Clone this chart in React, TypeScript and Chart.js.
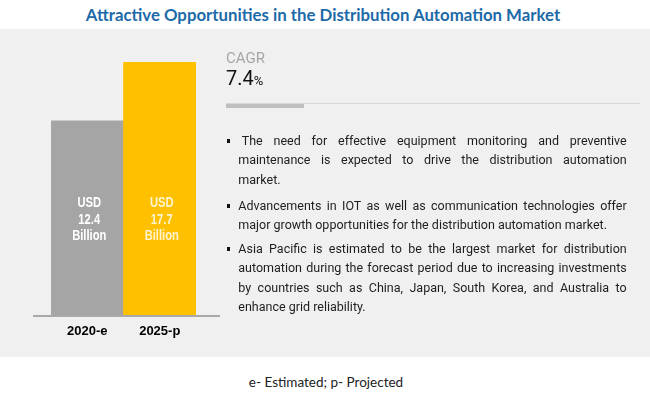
import React, { useEffect, useRef } from "react";
import { Chart, registerables } from "chart.js";

Chart.register(...registerables);

const TITLE = "Attractive Opportunities in the Distribution Automation Market";
const CATEGORIES = ["2020-e", "2025-p"];
const VALUES = [12.4, 17.7];
const BAR_COLORS = ["#a5a5a5", "#ffc000"];
const BAR_LABEL_COLORS = ["#ffffff", "#fff4d0"];
const UNIT_PREFIX = "USD";
const UNIT_SUFFIX = "Billion";
const Y_MIN = -5.3;
const Y_MAX = 18.9;
const CAGR_LABEL = "CAGR";
const CAGR_VALUE = 7.4;
const BULLETS: string[][] = [
  [
    "The need for effective equipment monitoring and preventive",
    "maintenance is expected to drive the distribution automation",
    "market.",
  ],
  [
    "Advancements in IOT as well as communication technologies offer",
    "major growth opportunities for the distribution automation market.",
  ],
  [
    "Asia Pacific is estimated to be the largest market for distribution",
    "automation during the forecast period due to increasing investments",
    "by countries such as China, Japan, South Korea, and Australia to",
    "enhance grid reliability.",
  ],
];
const BULLET_TOPS = [130.8, 195.8, 238.6];
const FOOTNOTE = "e- Estimated; p- Projected";

const axisLinePlugin = {
  id: "axisLine",
  afterDatasetsDraw(chart: any) {
    const { ctx, chartArea } = chart;
    const y = chart.scales.y.getPixelForValue(Y_MIN);
    ctx.save();
    ctx.strokeStyle = "#a9a9a9";
    ctx.lineWidth = 2;
    ctx.beginPath();
    ctx.moveTo(chartArea.left - 18, y);
    ctx.lineTo(chartArea.right + 24, y);
    ctx.stroke();
    ctx.restore();
  },
};

const NARROW = 0.8;

const barLabelPlugin = {
  id: "barLabels",
  afterDatasetsDraw(chart: any) {
    const { ctx, chartArea } = chart;
    const meta = chart.getDatasetMeta(0);
    ctx.save();
    ctx.font = 'bold 14px "Liberation Sans", Arial, sans-serif';
    ctx.textAlign = "center";
    ctx.textBaseline = "middle";
    ctx.scale(NARROW, 1);
    meta.data.forEach((bar: any, i: number) => {
      const lines = [UNIT_PREFIX, String(VALUES[i]), UNIT_SUFFIX];
      ctx.fillStyle = BAR_LABEL_COLORS[i];
      lines.forEach((t, k) => {
        ctx.fillText(t, (bar.x + 2) / NARROW, chartArea.bottom - 113 + k * 16.8);
      });
    });
    ctx.restore();
  },
};

function BarChart() {
  const ref = useRef<HTMLCanvasElement>(null);
  useEffect(() => {
    if (!ref.current) return;
    const chart = new Chart(ref.current, {
      type: "bar",
      data: {
        labels: CATEGORIES,
        datasets: [
          {
            data: VALUES,
            backgroundColor: BAR_COLORS,
            borderWidth: 0,
            barPercentage: 1,
            categoryPercentage: 1,
            base: Y_MIN,
          } as any,
        ],
      },
      options: {
        responsive: false,
        animation: false,
        layout: { padding: { left: 51, right: 34, top: 20, bottom: 11 } },
        plugins: { legend: { display: false }, tooltip: { enabled: false }, title: { display: false } },
        scales: {
          x: {
            grid: { display: false, drawTicks: false },
            border: { display: false },
            ticks: {
              color: "#000000",
              padding: 8,
              font: { family: '"Liberation Sans", Arial, sans-serif', size: 13, weight: "bold" },
            },
            afterFit: (s: any) => {
              s.height = 30;
            },
          },
          y: { display: false, min: Y_MIN, max: Y_MAX },
        },
      },
      plugins: [axisLinePlugin, barLabelPlugin],
    });
    return () => chart.destroy();
  }, []);
  return (
    <canvas
      ref={ref}
      width={230}
      height={328}
      style={{ position: "absolute", left: 0, top: 29, width: 230, height: 328 }}
    />
  );
}

export default function App() {
  const textFont = 'Roboto, "Liberation Sans", sans-serif';
  return (
    <div
      style={{
        position: "absolute",
        left: 0,
        top: 0,
        width: 650,
        height: 393,
        background: "#ffffff",
        overflow: "hidden",
        fontFamily: textFont,
      }}
    >
      <div
        style={{
          position: "absolute",
          left: 0,
          top: 5,
          width: 646,
          textAlign: "center",
          fontFamily: 'Lato, "Open Sans", sans-serif',
          fontWeight: 700,
          fontSize: 16.8,
          lineHeight: "20px",
          color: "#1d6aa8",
        }}
      >
        {TITLE}
      </div>
      <div style={{ position: "absolute", left: 0, top: 29, width: 650, height: 328, background: "#f0f0f0" }} />
      <BarChart />
      <div
        style={{
          position: "absolute",
          left: 226,
          top: 50.8,
          fontSize: 15,
          lineHeight: "15px",
          color: "#a6a6a6",
        }}
      >
        {CAGR_LABEL}
      </div>
      <div
        style={{
          position: "absolute",
          left: 226,
          top: 67.5,
          fontSize: 20,
          lineHeight: "20px",
          color: "#111111",
          whiteSpace: "nowrap",
        }}
      >
        {CAGR_VALUE}
        <span style={{ fontSize: 13 }}>%</span>
      </div>
      <div style={{ position: "absolute", left: 226, top: 103, width: 414, height: 1, background: "#d6d6d6" }} />
      <div style={{ position: "absolute", left: 226, top: 104, width: 78, height: 4, background: "#bfbfbf" }} />
      {BULLETS.map((para, pi) => (
        <div key={pi} style={{ position: "absolute", left: 226, top: BULLET_TOPS[pi], width: 401 }}>
          <div
            style={{
              position: "absolute",
              left: 0.5,
              top: 8,
              width: 3.5,
              height: 4,
              background: "#111111",
            }}
          />
          {para.map((line, li) => {
            const last = li === para.length - 1;
            return (
              <div
                key={li}
                style={{
                  marginLeft: 12.3,
                  paddingLeft: pi === 0 && li === 0 ? 3.4 : 0,
                  width: pi === 0 && li === 0 ? 385 : 388.4,
                  fontSize: 12.5,
                  lineHeight: "19.5px",
                  height: 19.5,
                  color: "#1e1e1e",
                  whiteSpace: "nowrap",
                  textAlign: last ? "left" : "justify",
                  textAlignLast: last ? "left" : "justify",
                } as any}
              >
                {line}
              </div>
            );
          })}
        </div>
      ))}
      <div
        style={{
          position: "absolute",
          left: 0,
          top: 372,
          width: 652,
          textAlign: "center",
          fontFamily: 'Lato, "Open Sans", sans-serif',
          fontSize: 13.5,
          lineHeight: "20px",
          color: "#222222",
        }}
      >
        {FOOTNOTE}
      </div>
    </div>
  );
}
